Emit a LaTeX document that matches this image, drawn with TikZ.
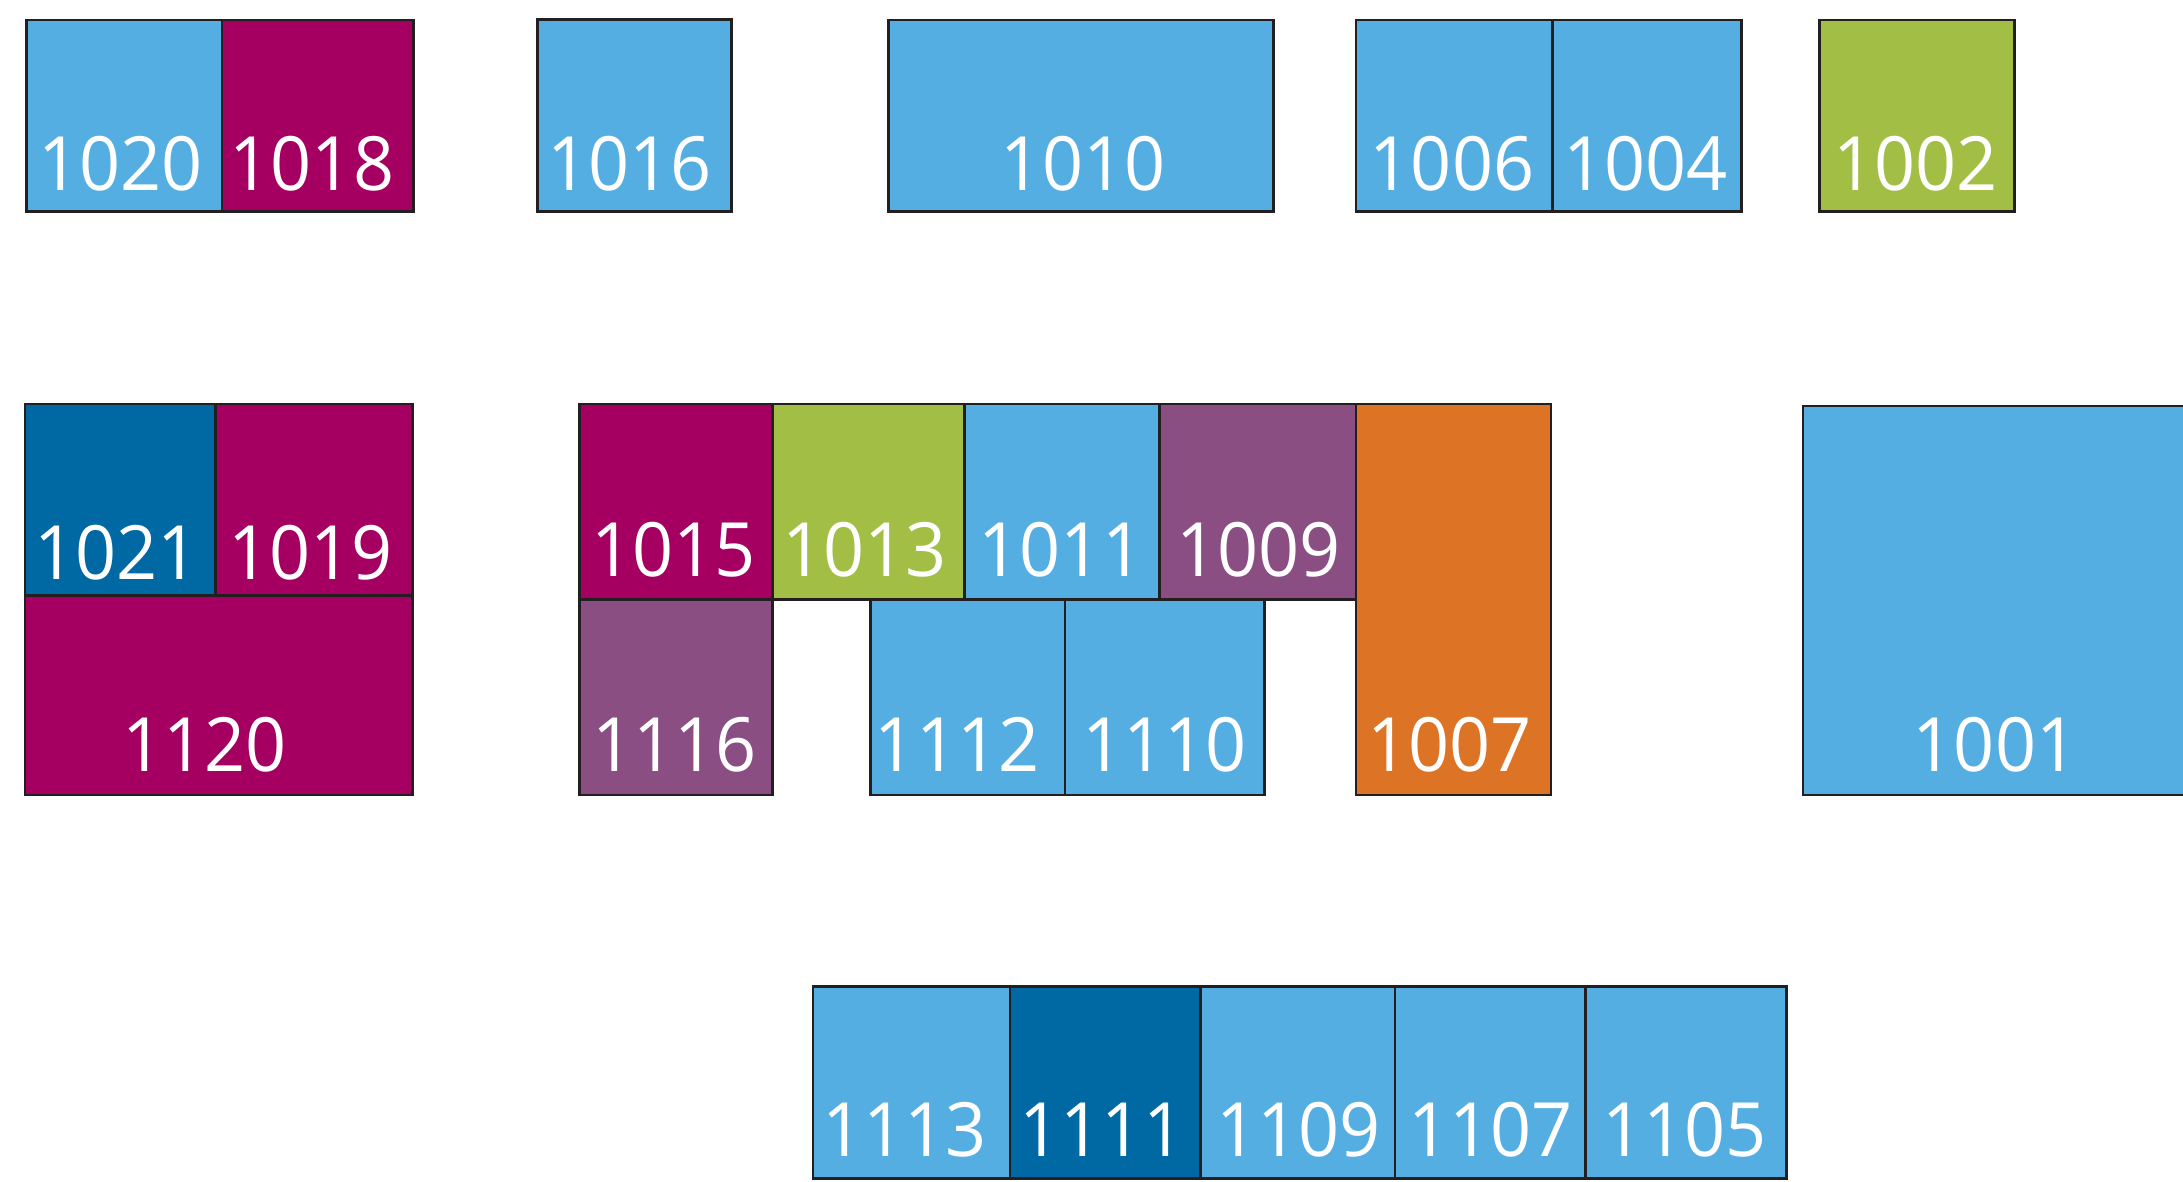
\documentclass[tikz,border=0pt]{standalone}
\usepackage{fontspec}
\setmainfont[FakeStretch=0.96]{Open Sans}
\definecolor{lblue}{RGB}{85,174,225}
\definecolor{mag}{RGB}{165,0,97}
\definecolor{dblue}{RGB}{0,105,163}
\definecolor{lgreen}{RGB}{163,190,69}
\definecolor{purp}{RGB}{138,78,130}
\definecolor{orng}{RGB}{220,115,37}
\definecolor{edge}{RGB}{35,31,32}
\newcommand\roombox[8]{%
  \draw[roomline,fill=#6] (#2,#3) rectangle (#4,#5);
  \node[lab] (t#1) at (#7,#8) {#1};}
\begin{document}
\begin{tikzpicture}[x=0.013922cm,y=-0.013922cm,
  roomline/.style={draw=edge,line width=0.8pt},
  lab/.style={anchor=base,text=white,inner sep=0pt,font=\fontsize{21.3}{21.3}\selectfont}]
\useasboundingbox (0,0) rectangle (1568,849);
\clip (0,0) rectangle (1568,849);
% row 1
\roombox{1020}{19}{14.4}{159.5}{152}{lblue}{86.5}{137}
\roombox{1018}{159.5}{14.4}{297}{152}{mag}{224}{137}
\roombox{1016}{386}{14}{525.5}{152}{lblue}{452}{137}
\roombox{1010}{638}{14.4}{915}{152}{lblue}{778}{137}
\roombox{1006}{974}{14.4}{1115}{152}{lblue}{1043}{137}
\roombox{1004}{1115}{14.4}{1251}{152}{lblue}{1182}{137}
\roombox{1002}{1307}{14.4}{1447}{152}{lgreen}{1376}{137}
% row 2 left block
\roombox{1021}{18}{290.2}{155}{428}{dblue}{83.5}{416.5}
\roombox{1019}{155}{290.2}{296}{428}{mag}{223}{416.5}
\roombox{1120}{18}{428}{296}{571}{mag}{147}{554}
% row 2 middle block
\roombox{1015}{416}{290.2}{555}{430.5}{mag}{484}{414}
\roombox{1013}{555}{290.2}{693}{430.5}{lgreen}{621}{414}
\roombox{1011}{693}{290.2}{833}{430.5}{lblue}{762}{414}
\roombox{1009}{833}{290.2}{974}{430.5}{purp}{904}{414}
\roombox{1007}{974}{290.2}{1114}{571}{orng}{1041}{554}
\roombox{1116}{416}{430.5}{555}{571}{purp}{484.5}{554}
\roombox{1112}{625}{430.5}{765}{571}{lblue}{687.5}{554}
\roombox{1110}{765}{430.5}{908}{571}{lblue}{836.5}{554}
% right block
\roombox{1001}{1295}{291.6}{1580}{571}{lblue}{1433}{554}
% row 3
\roombox{1113}{584}{708.7}{725.5}{846.4}{lblue}{649.5}{830.5}
\roombox{1111}{725.5}{708.7}{862.5}{846.4}{dblue}{791.5}{830.5}
\roombox{1109}{862.5}{708.7}{1002}{846.4}{lblue}{932.5}{830.5}
\roombox{1107}{1002}{708.7}{1139}{846.4}{lblue}{1070.5}{830.5}
\roombox{1105}{1139}{708.7}{1283.4}{846.4}{lblue}{1210}{830.5}
\end{tikzpicture}
\end{document}
